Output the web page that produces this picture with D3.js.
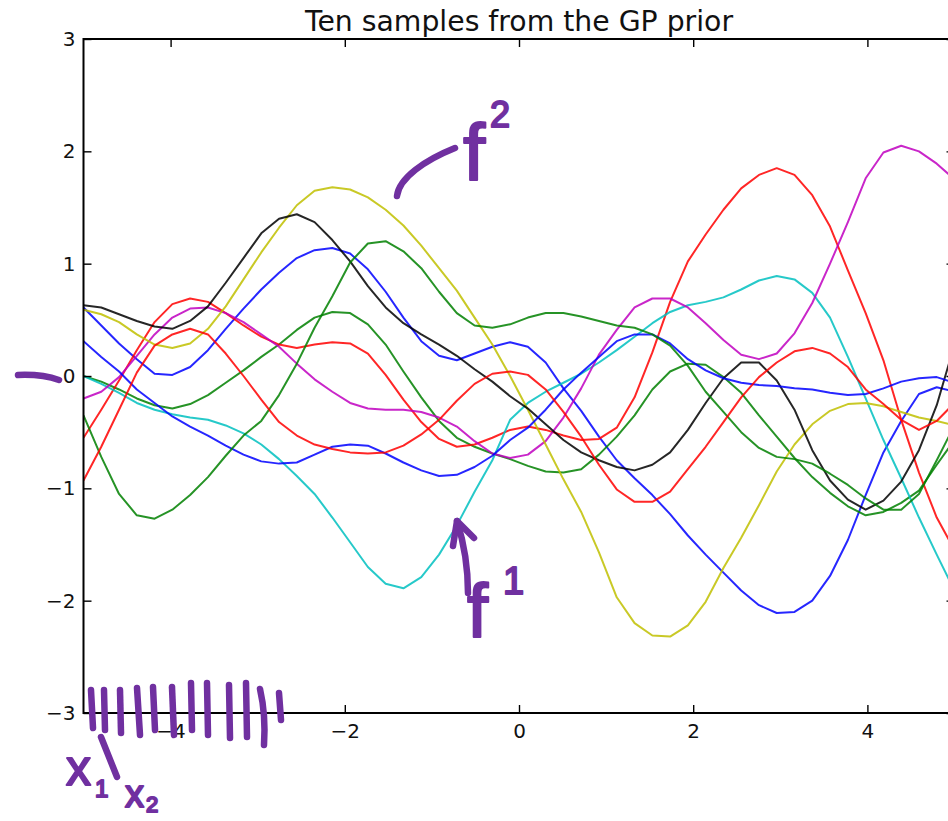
<!DOCTYPE html>
<html>
<head>
<meta charset="utf-8">
<script src="https://cdnjs.cloudflare.com/ajax/libs/d3/7.8.5/d3.min.js"></script>
<style>
	body { margin: 0; background: #fff; overflow: hidden; }
	svg { display: block; font-family: "DejaVu Sans", sans-serif; }
</style>
</head>
<body>
<div id="chart"></div>
<script>
// 50 input points on [-5, 5]
let sampleX = [-5.000, -4.796, -4.592, -4.388, -4.184, -3.980, -3.776, -3.571, -3.367, -3.163,
	-2.959, -2.755, -2.551, -2.347, -2.143, -1.939, -1.735, -1.531, -1.327, -1.122,
	-0.918, -0.714, -0.510, -0.306, -0.102, 0.102, 0.306, 0.510, 0.714, 0.918,
	1.122, 1.327, 1.531, 1.735, 1.939, 2.143, 2.347, 2.551, 2.755, 2.959,
	3.163, 3.367, 3.571, 3.776, 3.980, 4.184, 4.388, 4.592, 4.796, 5.000];

let tickX = [-4, -2, 0, 2, 4];
let tickY = [-3, -2, -1, 0, 1, 2, 3];

// the ten prior draws
let blue1 = [0.61, 0.45, 0.29, 0.15, 0.02, 0.01, 0.08, 0.23, 0.42, 0.60,
	0.77, 0.92, 1.05, 1.12, 1.14, 1.09, 0.95, 0.75, 0.52, 0.31,
	0.18, 0.14, 0.20, 0.26, 0.30, 0.26, 0.12, -0.11, -0.31, -0.54,
	-0.75, -0.91, -1.06, -1.23, -1.42, -1.59, -1.75, -1.91, -2.04, -2.11,
	-2.10, -2.00, -1.78, -1.46, -1.06, -0.68, -0.40, -0.16, -0.10, -0.14];
let green1 = [0.00, -0.05, -0.12, -0.20, -0.26, -0.29, -0.25, -0.17, -0.06, 0.05,
	0.17, 0.28, 0.41, 0.52, 0.57, 0.56, 0.46, 0.28, 0.04, -0.19,
	-0.40, -0.55, -0.63, -0.69, -0.74, -0.80, -0.85, -0.86, -0.83, -0.70,
	-0.54, -0.35, -0.12, 0.04, 0.11, 0.10, -0.01, -0.15, -0.35, -0.54,
	-0.73, -0.90, -1.04, -1.16, -1.24, -1.21, -1.13, -1.02, -0.79, -0.57];
let red1 = [-0.55, -0.30, -0.04, 0.23, 0.48, 0.64, 0.69, 0.66, 0.56, 0.45,
	0.35, 0.28, 0.25, 0.28, 0.30, 0.29, 0.20, 0.01, -0.21, -0.41,
	-0.56, -0.63, -0.61, -0.55, -0.48, -0.45, -0.48, -0.53, -0.57, -0.56,
	-0.46, -0.19, 0.21, 0.66, 1.02, 1.26, 1.48, 1.67, 1.79, 1.85,
	1.79, 1.61, 1.33, 0.94, 0.56, 0.14, -0.39, -0.86, -1.26, -1.55];
let cyan = [0.00, -0.07, -0.15, -0.24, -0.30, -0.34, -0.37, -0.39, -0.44, -0.51,
	-0.61, -0.74, -0.89, -1.05, -1.26, -1.48, -1.70, -1.85, -1.89, -1.79,
	-1.59, -1.33, -1.03, -0.75, -0.39, -0.24, -0.14, -0.06, 0.02, 0.12,
	0.23, 0.35, 0.47, 0.57, 0.63, 0.66, 0.70, 0.77, 0.85, 0.89,
	0.86, 0.74, 0.52, 0.17, -0.20, -0.57, -0.91, -1.26, -1.59, -1.91];
let magenta = [-0.20, -0.14, -0.01, 0.18, 0.37, 0.52, 0.60, 0.61, 0.56, 0.48,
	0.37, 0.26, 0.11, -0.03, -0.14, -0.24, -0.29, -0.30, -0.30, -0.32,
	-0.37, -0.45, -0.58, -0.69, -0.73, -0.70, -0.58, -0.37, -0.11, 0.19,
	0.41, 0.61, 0.69, 0.69, 0.61, 0.47, 0.32, 0.19, 0.15, 0.20,
	0.38, 0.65, 1.00, 1.37, 1.76, 1.99, 2.05, 2.00, 1.89, 1.75];
let yellow = [0.59, 0.55, 0.48, 0.37, 0.28, 0.25, 0.29, 0.42, 0.62, 0.86,
	1.10, 1.32, 1.52, 1.65, 1.68, 1.66, 1.59, 1.48, 1.34, 1.16,
	0.96, 0.76, 0.52, 0.28, 0.00, -0.30, -0.61, -0.92, -1.21, -1.57,
	-1.97, -2.20, -2.31, -2.32, -2.22, -2.01, -1.71, -1.44, -1.15, -0.85,
	-0.61, -0.43, -0.31, -0.25, -0.24, -0.27, -0.32, -0.37, -0.40, -0.44];
let black = [0.63, 0.61, 0.55, 0.49, 0.44, 0.42, 0.49, 0.62, 0.83, 1.05,
	1.27, 1.40, 1.44, 1.37, 1.21, 1.02, 0.80, 0.61, 0.47, 0.37,
	0.28, 0.18, 0.06, -0.05, -0.18, -0.29, -0.43, -0.57, -0.68, -0.75,
	-0.81, -0.84, -0.79, -0.68, -0.48, -0.24, -0.02, 0.12, 0.12, -0.04,
	-0.30, -0.66, -0.93, -1.10, -1.19, -1.11, -0.94, -0.66, -0.26, 0.28];
let blue2 = [0.31, 0.17, 0.04, -0.12, -0.24, -0.36, -0.45, -0.53, -0.62, -0.70,
	-0.76, -0.78, -0.77, -0.70, -0.63, -0.61, -0.62, -0.69, -0.77, -0.84,
	-0.89, -0.88, -0.81, -0.71, -0.57, -0.46, -0.30, -0.12, 0.03, 0.17,
	0.31, 0.37, 0.37, 0.29, 0.15, 0.05, -0.02, -0.06, -0.08, -0.09,
	-0.11, -0.12, -0.15, -0.17, -0.16, -0.11, -0.05, -0.02, -0.01, -0.06];
let green2 = [-0.35, -0.72, -1.05, -1.24, -1.27, -1.19, -1.06, -0.90, -0.71, -0.53,
	-0.40, -0.17, 0.11, 0.43, 0.71, 1.01, 1.18, 1.20, 1.11, 0.96,
	0.75, 0.56, 0.45, 0.43, 0.46, 0.52, 0.56, 0.56, 0.53, 0.49,
	0.45, 0.43, 0.37, 0.27, 0.09, -0.14, -0.32, -0.50, -0.64, -0.72,
	-0.74, -0.78, -0.87, -0.97, -1.09, -1.19, -1.19, -1.05, -0.75, -0.44];
let red2 = [-0.93, -0.63, -0.30, 0.03, 0.27, 0.37, 0.42, 0.37, 0.20, 0.00,
	-0.21, -0.41, -0.53, -0.61, -0.65, -0.68, -0.69, -0.68, -0.62, -0.52,
	-0.39, -0.22, -0.07, 0.02, 0.04, 0.01, -0.12, -0.32, -0.54, -0.79,
	-1.01, -1.12, -1.12, -1.03, -0.83, -0.63, -0.41, -0.19, -0.01, 0.12,
	0.22, 0.25, 0.20, 0.08, -0.12, -0.25, -0.39, -0.48, -0.40, -0.24];

let samples = [blue1, green1, red1, cyan, magenta, yellow, black, blue2, green2, red2];
let sampleColors = ['#0000ff', '#008000', '#ff0000', '#00bfbf', '#bf00bf', '#bfbf00', '#000000', '#0000ff', '#008000', '#ff0000'];

let width = 948;
let height = 821;
let plotLeft = 83.5;
let plotRight = 954.5;
let plotTop = 39;
let plotBottom = 713;

let svg = d3.select('#chart')
	.append('svg')
	.attr('width', width)
	.attr('height', height);

let x = d3.scaleLinear()
	.domain([-5, 5])
	.range([plotLeft, plotRight]);

let y = d3.scaleLinear()
	.domain([-3, 3])
	.range([plotBottom, plotTop]);

svg.append('clipPath')
	.attr('id', 'plot-area')
	.append('rect')
	.attr('x', plotLeft)
	.attr('y', plotTop)
	.attr('width', plotRight - plotLeft)
	.attr('height', plotBottom - plotTop);

let line = d3.line()
	.x(function(d, i){ return x(sampleX[i]); })
	.y(function(d){ return y(d); });

svg.append('g')
	.attr('clip-path', 'url(#plot-area)')
	.selectAll('path')
	.data(samples)
	.enter()
	.append('path')
	.attr('d', line)
	.attr('fill', 'none')
	.attr('stroke', function(d, i){ return sampleColors[i]; })
	.attr('stroke-width', 2)
	.attr('stroke-opacity', 0.85)
	.attr('stroke-linejoin', 'round');

// axes: ticks point inward on all four sides, labels only bottom and left
function styleAxis(g){
	g.select('.domain').remove();
	g.selectAll('.tick line').attr('stroke', '#000').attr('stroke-width', 1.4);
	g.selectAll('.tick text').attr('fill', '#111');
	g.attr('font-size', 20).attr('font-family', '"DejaVu Sans", sans-serif');
}

svg.append('g')
	.attr('transform', 'translate(0,' + plotBottom + ')')
	.call(d3.axisBottom(x).tickValues(tickX).tickSizeInner(-8).tickSizeOuter(0).tickPadding(11))
	.call(styleAxis);

svg.append('g')
	.attr('transform', 'translate(0,' + plotTop + ')')
	.call(d3.axisTop(x).tickValues(tickX).tickSizeInner(-8).tickSizeOuter(0).tickFormat(''))
	.call(styleAxis);

svg.append('g')
	.attr('transform', 'translate(' + plotLeft + ',0)')
	.call(d3.axisLeft(y).tickValues(tickY).tickSizeInner(-8).tickSizeOuter(0).tickPadding(8).tickFormat(d3.format('d')))
	.call(styleAxis);

svg.append('g')
	.attr('transform', 'translate(' + plotRight + ',0)')
	.call(d3.axisRight(y).tickValues(tickY).tickSizeInner(-8).tickSizeOuter(0).tickFormat(''))
	.call(styleAxis);

svg.append('rect')
	.attr('x', plotLeft)
	.attr('y', plotTop)
	.attr('width', plotRight - plotLeft)
	.attr('height', plotBottom - plotTop)
	.attr('fill', 'none')
	.attr('stroke', '#000')
	.attr('stroke-width', 2);

svg.append('text')
	.attr('text-anchor', 'middle')
	.attr('x', (plotLeft + plotRight) / 2)
	.attr('y', 31)
	.attr('font-size', 28.3)
	.attr('fill', '#111')
	.text('Ten samples from the GP prior');

// handwritten ink on top of the figure
let ink = '#7030a0';
let inkStrokes = [
	'M397,196 C399,178 425,160 455,148',
	'M18,375 Q42,374 59,380',
	'M91,690 L93,728', 'M104,690 L105,730', 'M120,690 L121,733', 'M137,688 L140,735',
	'M153,687 L155,730', 'M172,687 L174,735', 'M191,683 L192,730', 'M207,683 L208,735',
	'M229,685 L230,738', 'M246,683 L247,737', 'M260,689 Q266,715 264,745', 'M279,693 L281,720',
	'M101,737 L117,777',
	'M468,593 C468,565 463,540 457,521',
	'M453,546 L457,521 L474,538'
];

let hand = svg.append('g');

hand.selectAll('path')
	.data(inkStrokes)
	.enter()
	.append('path')
	.attr('d', function(d){ return d; })
	.attr('fill', 'none')
	.attr('stroke', ink)
	.attr('stroke-width', 6.5)
	.attr('stroke-linecap', 'round')
	.attr('stroke-linejoin', 'round');

let handText = [
	{t: 'f', x: 463, y: 180, s: 80},
	{t: '2', x: 490, y: 127, s: 36},
	{t: 'f', x: 467, y: 637, s: 76},
	{t: '1', x: 503, y: 594, s: 38},
	{t: 'x', x: 66, y: 785, s: 50},
	{t: '1', x: 95, y: 797, s: 24},
	{t: 'x', x: 125, y: 807, s: 38},
	{t: '2', x: 146, y: 812, s: 22}
];

hand.selectAll('text')
	.data(handText)
	.enter()
	.append('text')
	.attr('x', function(d){ return d.x; })
	.attr('y', function(d){ return d.y; })
	.attr('font-size', function(d){ return d.s; })
	.attr('font-family', '"Liberation Sans", sans-serif')
	.attr('fill', ink)
	.attr('stroke', ink)
	.attr('stroke-width', 2)
	.attr('stroke-linejoin', 'round')
	.text(function(d){ return d.t; });
</script>
</body>
</html>
